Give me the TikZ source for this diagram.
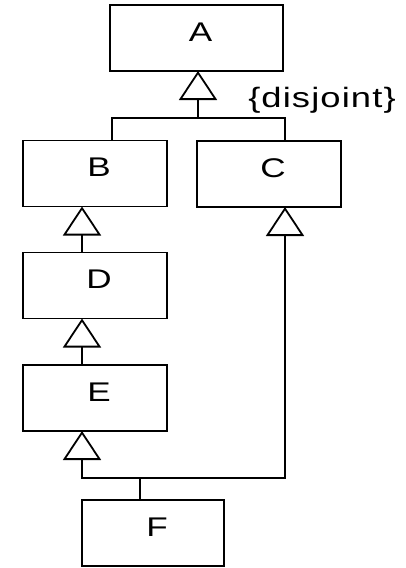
\documentclass[tikz,border=0pt]{standalone}
\usepackage{fontspec}
\setmainfont{Liberation Sans}
\usetikzlibrary{arrows.meta}
% class name, widened a little and nudged right of centre
\newcommand\classname[1]{\hspace*{8pt}\scalebox{1.3}[1]{#1}}
\begin{document}
\begin{tikzpicture}[x=1pt, y=-1pt,
  cls/.style={draw, line width=1.8pt, minimum width=144pt, minimum height=66pt,
    inner sep=0pt, outer sep=0pt, font=\fontsize{27}{30}\selectfont, text depth=12pt},
  link/.style={line width=1.8pt},
  gen/.style={link, -{Triangle[open, length=29pt, width=38pt]}}]
\useasboundingbox (0,0) rectangle (405,568);

% classes
\node[cls, minimum width=173pt] (A) at (196.5,38) {\classname{A}};
\node[cls] (B) at (95,173.5) {\classname{B}};
\node[cls] (C) at (269,174) {\classname{C}};
\node[cls] (D) at (95,285.5) {\classname{D}};
\node[cls] (E) at (95,398) {\classname{E}};
\node[cls, minimum width=142pt] (F) at (153,533) {\classname{F}};

% generalisation set of B and C under A
\coordinate (j1) at (198,118);
\draw[link] ([xshift=-55pt]B.north east) |- (j1) -| ([xshift=-56pt]C.north east);
\draw[gen] (j1) -- (j1 |- A.south);
\node[font=\fontsize{28}{30}\selectfont, inner sep=0pt] (ds) at (322,100)
  {\scalebox{1.3}[1]{\addfontfeatures{LetterSpace=3}\{disjoint\}}};

% single inheritance chain
\draw[gen] ([xshift=59pt]D.north west) -- ([xshift=59pt]B.south west);
\draw[gen] ([xshift=59pt]E.north west) -- ([xshift=59pt]D.south west);

% F inherits from E and C
\coordinate (j2) at (140,478);
\draw[link] (j2 |- F.north) -- (j2);
\draw[gen] (j2) -| ([xshift=59pt]E.south west);
\draw[gen] (j2) -| ([xshift=-56pt]C.south east);
\end{tikzpicture}
\end{document}
